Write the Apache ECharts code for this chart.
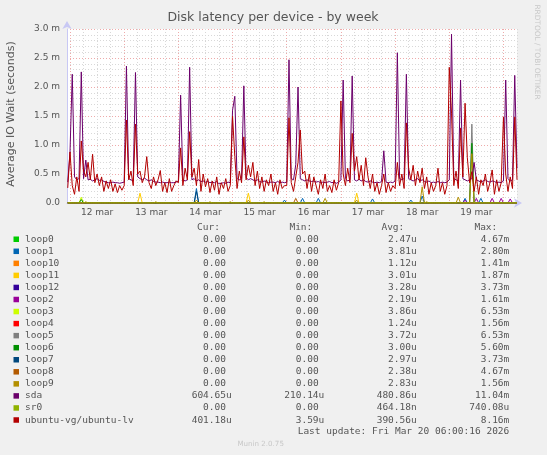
<!DOCTYPE html>
<html>
<head>
<meta charset="utf-8">
<script src="https://cdn.jsdelivr.net/npm/echarts@6/dist/echarts.min.js"></script>
<style>
html,body{margin:0;padding:0;background:#f0f0f0;}
#chart{width:547px;height:455px;}
</style>
</head>
<body>
<div id="chart"></div>
<script>
// ---- data (values in milliseconds, hourly samples starting at hour -1 relative to 12 mar 00:00) ----
const hourStart = -1;
const xMin = -1.33, xMax = 198;
const dayLabels = ['12 mar','13 mar','14 mar','15 mar','16 mar','17 mar','18 mar','19 mar'];
const dayNoons = [12, 36, 60, 84, 108, 132, 156, 180];
const midnights = [0, 24, 48, 72, 96, 120, 144, 168, 192];
const sixHours = [0,6,12,18,24,30,36,42,48,54,60,66,72,78,84,90,96,102,108,114,120,126,132,138,144,150,156,162,168,174,180,186,192,198];
const yTickLabels = ['0.0','0.5 m','1.0 m','1.5 m','2.0 m','2.5 m','3.0 m'];

const sdaWait = [0.36,
 0.88,2.22,0.45,0.40,0.42,2.26,0.42,0.74,0.40,0.41,0.38,0.40,0.42,0.39,0.40,0.37,0.36,0.35,0.35,0.36,0.35,0.35,0.34,0.35,
 0.36,2.36,0.42,0.40,0.38,2.25,0.45,0.42,0.40,0.43,0.40,0.38,0.40,0.37,0.36,0.36,0.35,0.36,0.35,0.35,0.36,0.35,0.35,0.36,
 0.38,1.86,0.40,0.38,0.40,2.34,0.40,0.42,0.38,0.40,0.37,0.38,0.36,0.37,0.35,0.36,0.35,0.37,0.33,0.34,0.35,0.34,0.36,0.35,
 1.60,1.84,0.42,0.40,0.42,2.02,0.44,0.40,0.42,0.40,0.38,0.40,0.37,0.36,0.38,0.36,0.35,0.36,0.36,0.35,0.37,0.35,0.36,0.35,
 0.36,2.47,0.42,0.40,0.66,2.00,0.42,0.40,0.38,0.40,0.38,0.37,0.38,0.36,0.37,0.35,0.36,0.35,0.36,0.37,0.35,0.36,0.34,0.36,
 0.40,2.12,0.42,0.38,0.40,2.19,0.40,0.38,0.41,0.38,0.40,0.37,0.36,0.38,0.36,0.35,0.36,0.35,0.37,0.90,0.36,0.35,0.36,0.35,
 0.38,2.59,0.42,0.40,0.42,2.22,0.42,0.40,0.38,0.40,0.42,0.38,0.40,0.37,0.36,0.38,0.35,0.36,0.35,0.37,0.35,0.36,0.35,0.36,
 0.40,2.91,0.42,0.40,0.38,2.12,0.42,0.40,0.38,0.40,0.42,0.70,0.40,0.38,0.36,0.38,0.40,0.37,0.36,0.38,0.37,0.35,0.36,0.35,
 0.38,2.12,0.42,0.38,0.40,2.20,0.60];

const lvWait = [0.26,
 0.88,0.30,0.15,0.45,0.20,1.07,0.55,0.45,0.70,0.40,0.84,0.35,0.50,0.30,0.45,0.20,0.38,0.25,0.40,0.20,0.33,0.18,0.30,0.22,
 0.30,1.43,0.40,0.55,0.30,1.36,0.50,0.55,0.35,0.45,0.80,0.35,0.25,0.45,0.30,0.40,0.56,0.20,0.35,0.18,0.42,0.20,0.30,0.38,
 0.35,0.95,0.30,0.60,0.40,1.23,0.45,0.60,0.30,0.75,0.20,0.50,0.28,0.42,0.18,0.38,0.22,0.45,0.15,0.35,0.25,0.42,0.20,0.30,
 1.50,0.80,0.25,0.55,0.35,1.14,0.40,0.65,0.45,0.70,0.30,0.55,0.25,0.45,0.20,0.40,0.30,0.50,0.20,0.35,0.15,0.40,0.25,0.30,
 0.30,1.47,0.35,0.20,0.45,0.70,1.26,0.50,0.55,0.25,0.50,0.20,0.45,0.30,0.15,0.40,0.25,0.50,0.20,0.30,0.18,0.40,0.22,0.35,
 1.76,0.50,0.30,0.60,0.35,1.20,0.55,0.80,0.40,0.65,0.30,0.78,0.45,0.25,0.50,0.20,0.35,0.15,0.30,0.50,0.18,0.35,0.20,0.30,
 0.25,0.70,0.30,0.50,0.25,1.38,0.60,0.40,0.65,0.30,0.55,0.35,0.60,0.25,0.45,0.15,0.35,0.20,0.30,0.60,0.20,0.35,0.15,0.30,
 2.34,1.55,0.30,0.55,0.25,1.29,0.45,1.72,0.78,0.35,0.54,0.20,0.45,0.15,0.40,0.30,0.50,0.20,0.35,0.57,0.15,0.40,0.20,0.35,
 1.48,0.50,0.20,0.45,0.25,1.48,0.40];

// loop devices: zero except these [hour, value] readings
const loop0Spikes = [];
const loop1Spikes = [[56,0.25],[95,0.05],[103,0.08],[110,0.08],[134,0.07],[151,0.05],[156,0.12],[175,0.08],[182,0.08]];
const loop10Spikes = [];
const loop11Spikes = [[31,0.17],[79,0.17],[127,0.17]];
const loop12Spikes = [];
const loop2Spikes = [[175,0.05],[180,0.08],[187,0.08],[191,0.08],[195,0.07]];
const loop3Spikes = [[5,0.10]];
const loop4Spikes = [];
const loop5Spikes = [[178,1.36]];
const loop6Spikes = [[5,0.06],[178,1.03]];
const loop7Spikes = [[56,0.20]];
const loop8Spikes = [[100,0.08]];
const loop9Spikes = [[7,0.02],[38,0.02],[56,0.05],[62,0.02],[71,0.02],[79,0.05],[86,0.02],[113,0.08],[127,0.05],[156,0.28],[158,0.02],[172,0.10],[178,0.85]];
const sr0Spikes = [];

// legend table
const devNames = ['loop0','loop1','loop10','loop11','loop12','loop2','loop3','loop4','loop5','loop6','loop7','loop8','loop9','sda','sr0','ubuntu-vg/ubuntu-lv'];
const curVals = ['0.00','0.00','0.00','0.00','0.00','0.00','0.00','0.00','0.00','0.00','0.00','0.00','0.00','604.65u','0.00','401.18u'];
const minVals = ['0.00','0.00','0.00','0.00','0.00','0.00','0.00','0.00','0.00','0.00','0.00','0.00','0.00','210.14u','0.00','3.59u'];
const avgVals = ['2.47u','3.81u','1.12u','3.01u','3.28u','2.19u','3.86u','1.24u','3.72u','3.00u','2.97u','2.38u','2.83u','480.86u','464.18n','390.56u'];
const maxVals = ['4.67m','2.80m','1.41m','1.87m','3.73m','1.61m','6.53m','1.56m','6.53m','5.60m','3.73m','4.67m','1.56m','11.04m','740.08u','8.16m'];
const headers = ['Cur:','Min:','Avg:','Max:'];
const lastUpdate = 'Last update: Fri Mar 20 06:00:16 2026';

// ---- styles ----
const devColors = ['#00CC00','#0066B3','#FF8000','#FFCC00','#330099','#990099','#CCFF00','#FF0000','#808080','#008F00','#00487D','#B35A00','#B38F00','#6B006B','#8FB300','#B30000'];

const nPts = sdaWait.length;
function fromSparse(sp) {
  const arr = new Array(nPts).fill(0);
  sp.forEach(([h, v]) => { arr[h - hourStart] = v; });
  return arr;
}
const seriesValues = [
  fromSparse(loop0Spikes), fromSparse(loop1Spikes), fromSparse(loop10Spikes), fromSparse(loop11Spikes),
  fromSparse(loop12Spikes), fromSparse(loop2Spikes), fromSparse(loop3Spikes), fromSparse(loop4Spikes),
  fromSparse(loop5Spikes), fromSparse(loop6Spikes), fromSparse(loop7Spikes), fromSparse(loop8Spikes),
  fromSparse(loop9Spikes), sdaWait, fromSparse(sr0Spikes), lvWait
];

const series = devNames.map((name, k) => ({
  name: name,
  type: 'line',
  xAxisIndex: 0,
  yAxisIndex: 0,
  symbol: 'none',
  silent: true,
  lineStyle: { width: 1, color: devColors[k] },
  itemStyle: { color: devColors[k] },
  data: seriesValues[k].map((v, i) => [hourStart + i, v])
}));

const font = 'DejaVu Sans';
const mono = 'DejaVu Sans Mono';
const txtColor = '#555';

const graphics = [
  { type: 'text', x: 273, y: 17.5, style: { text: 'Disk latency per device - by week', font: '12.5px "' + font + '"', fill: txtColor, align: 'center', verticalAlign: 'middle' } },
  { type: 'text', x: 11, y: 114, rotation: Math.PI / 2, style: { text: 'Average IO Wait (seconds)', font: '11px "' + font + '"', fill: txtColor, align: 'center', verticalAlign: 'middle' } },
  { type: 'text', x: 537, y: 52, rotation: -Math.PI / 2, style: { text: 'RRDTOOL / TOBI OETIKER', font: '7.4px "' + font + '"', fill: '#c8c8c8', align: 'center', verticalAlign: 'middle' } },
  { type: 'text', x: 260.7, y: 444, style: { text: 'Munin 2.0.75', font: '7.1px "' + font + '"', fill: '#c8c8c8', align: 'center', verticalAlign: 'middle' } },
  { type: 'text', x: 509.3, y: 431.7, style: { text: lastUpdate, font: '9.5px "' + mono + '"', fill: txtColor, align: 'right', verticalAlign: 'middle' } }
];
const headerRight = [220, 312.3, 404.3, 497.3];
headers.forEach((h, c) => {
  graphics.push({ type: 'text', x: headerRight[c], y: 227.3, style: { text: h, font: '9.5px "' + mono + '"', fill: txtColor, align: 'right', verticalAlign: 'middle' } });
});
const colRight = [231.7, 324.3, 416.7, 509.3];
const rowY0 = 239.3, rowStep = 12.05;
devNames.forEach((name, i) => {
  const y = rowY0 + i * rowStep;
  graphics.push({ type: 'rect', shape: { x: 13.5, y: y - 2.8, width: 5.5, height: 5.5 }, style: { fill: devColors[i] } });
  graphics.push({ type: 'text', x: 25, y: y, style: { text: name, font: '9.5px "' + mono + '"', fill: txtColor, align: 'left', verticalAlign: 'middle' } });
  [curVals[i], minVals[i], avgVals[i], maxVals[i]].forEach((v, c) => {
    const hasUnit = /[a-zA-Z]$/.test(v);
    graphics.push({ type: 'text', x: colRight[c] - (hasUnit ? 0 : 5.7), y: y, style: { text: v, font: '9.5px "' + mono + '"', fill: txtColor, align: 'right', verticalAlign: 'middle' } });
  });
});

const majorGrid = { color: '#eeaaaa', width: 1, type: [1, 2] };
const minorGrid = { color: '#d8d8d8', width: 1, type: [1, 2] };
const axisLineColor = '#c8c8f4';

const option = {
  animation: false,
  backgroundColor: '#f0f0f0',
  grid: { left: 67, right: 30, top: 29, bottom: 252, show: true, backgroundColor: '#ffffff', borderWidth: 0 },
  xAxis: [
    {
      type: 'value', min: xMin, max: xMax, position: 'bottom',
      axisLine: { show: true, onZero: false, lineStyle: { color: axisLineColor, width: 1 }, symbol: ['none', 'arrow'], symbolSize: [7, 8], symbolOffset: [0, 5] },
      axisTick: { show: false, customValues: sixHours },
      splitLine: { show: true, customValues: sixHours, lineStyle: minorGrid },
      axisLabel: {
        customValues: dayNoons, margin: 5, color: txtColor, fontFamily: font, fontSize: 9,
        formatter: function (v) { const k = dayNoons.indexOf(v); return k >= 0 ? dayLabels[k] : ''; }
      }
    },
    {
      type: 'value', min: xMin, max: xMax, position: 'bottom',
      axisLine: { show: false },
      axisTick: { show: false, customValues: midnights },
      splitLine: { show: true, customValues: midnights, lineStyle: majorGrid },
      axisLabel: { show: false, customValues: midnights }
    }
  ],
  yAxis: {
    type: 'value', min: 0, max: 3, interval: 0.5,
    axisLine: { show: true, onZero: false, lineStyle: { color: axisLineColor, width: 1 }, symbol: ['none', 'arrow'], symbolSize: [7, 8], symbolOffset: [0, 8] },
    axisTick: { show: false },
    splitLine: { show: true, lineStyle: majorGrid },
    minorTick: { show: false, splitNumber: 5 },
    minorSplitLine: { show: true, lineStyle: minorGrid },
    axisLabel: {
      margin: 7, color: txtColor, fontFamily: font, fontSize: 9,
      formatter: function (v) { return yTickLabels[Math.round(v / 0.5)]; }
    }
  },
  graphic: graphics,
  series: series
};

const chart = echarts.init(document.getElementById('chart'), null, { renderer: 'canvas' });
chart.setOption(option);
</script>
</body>
</html>
